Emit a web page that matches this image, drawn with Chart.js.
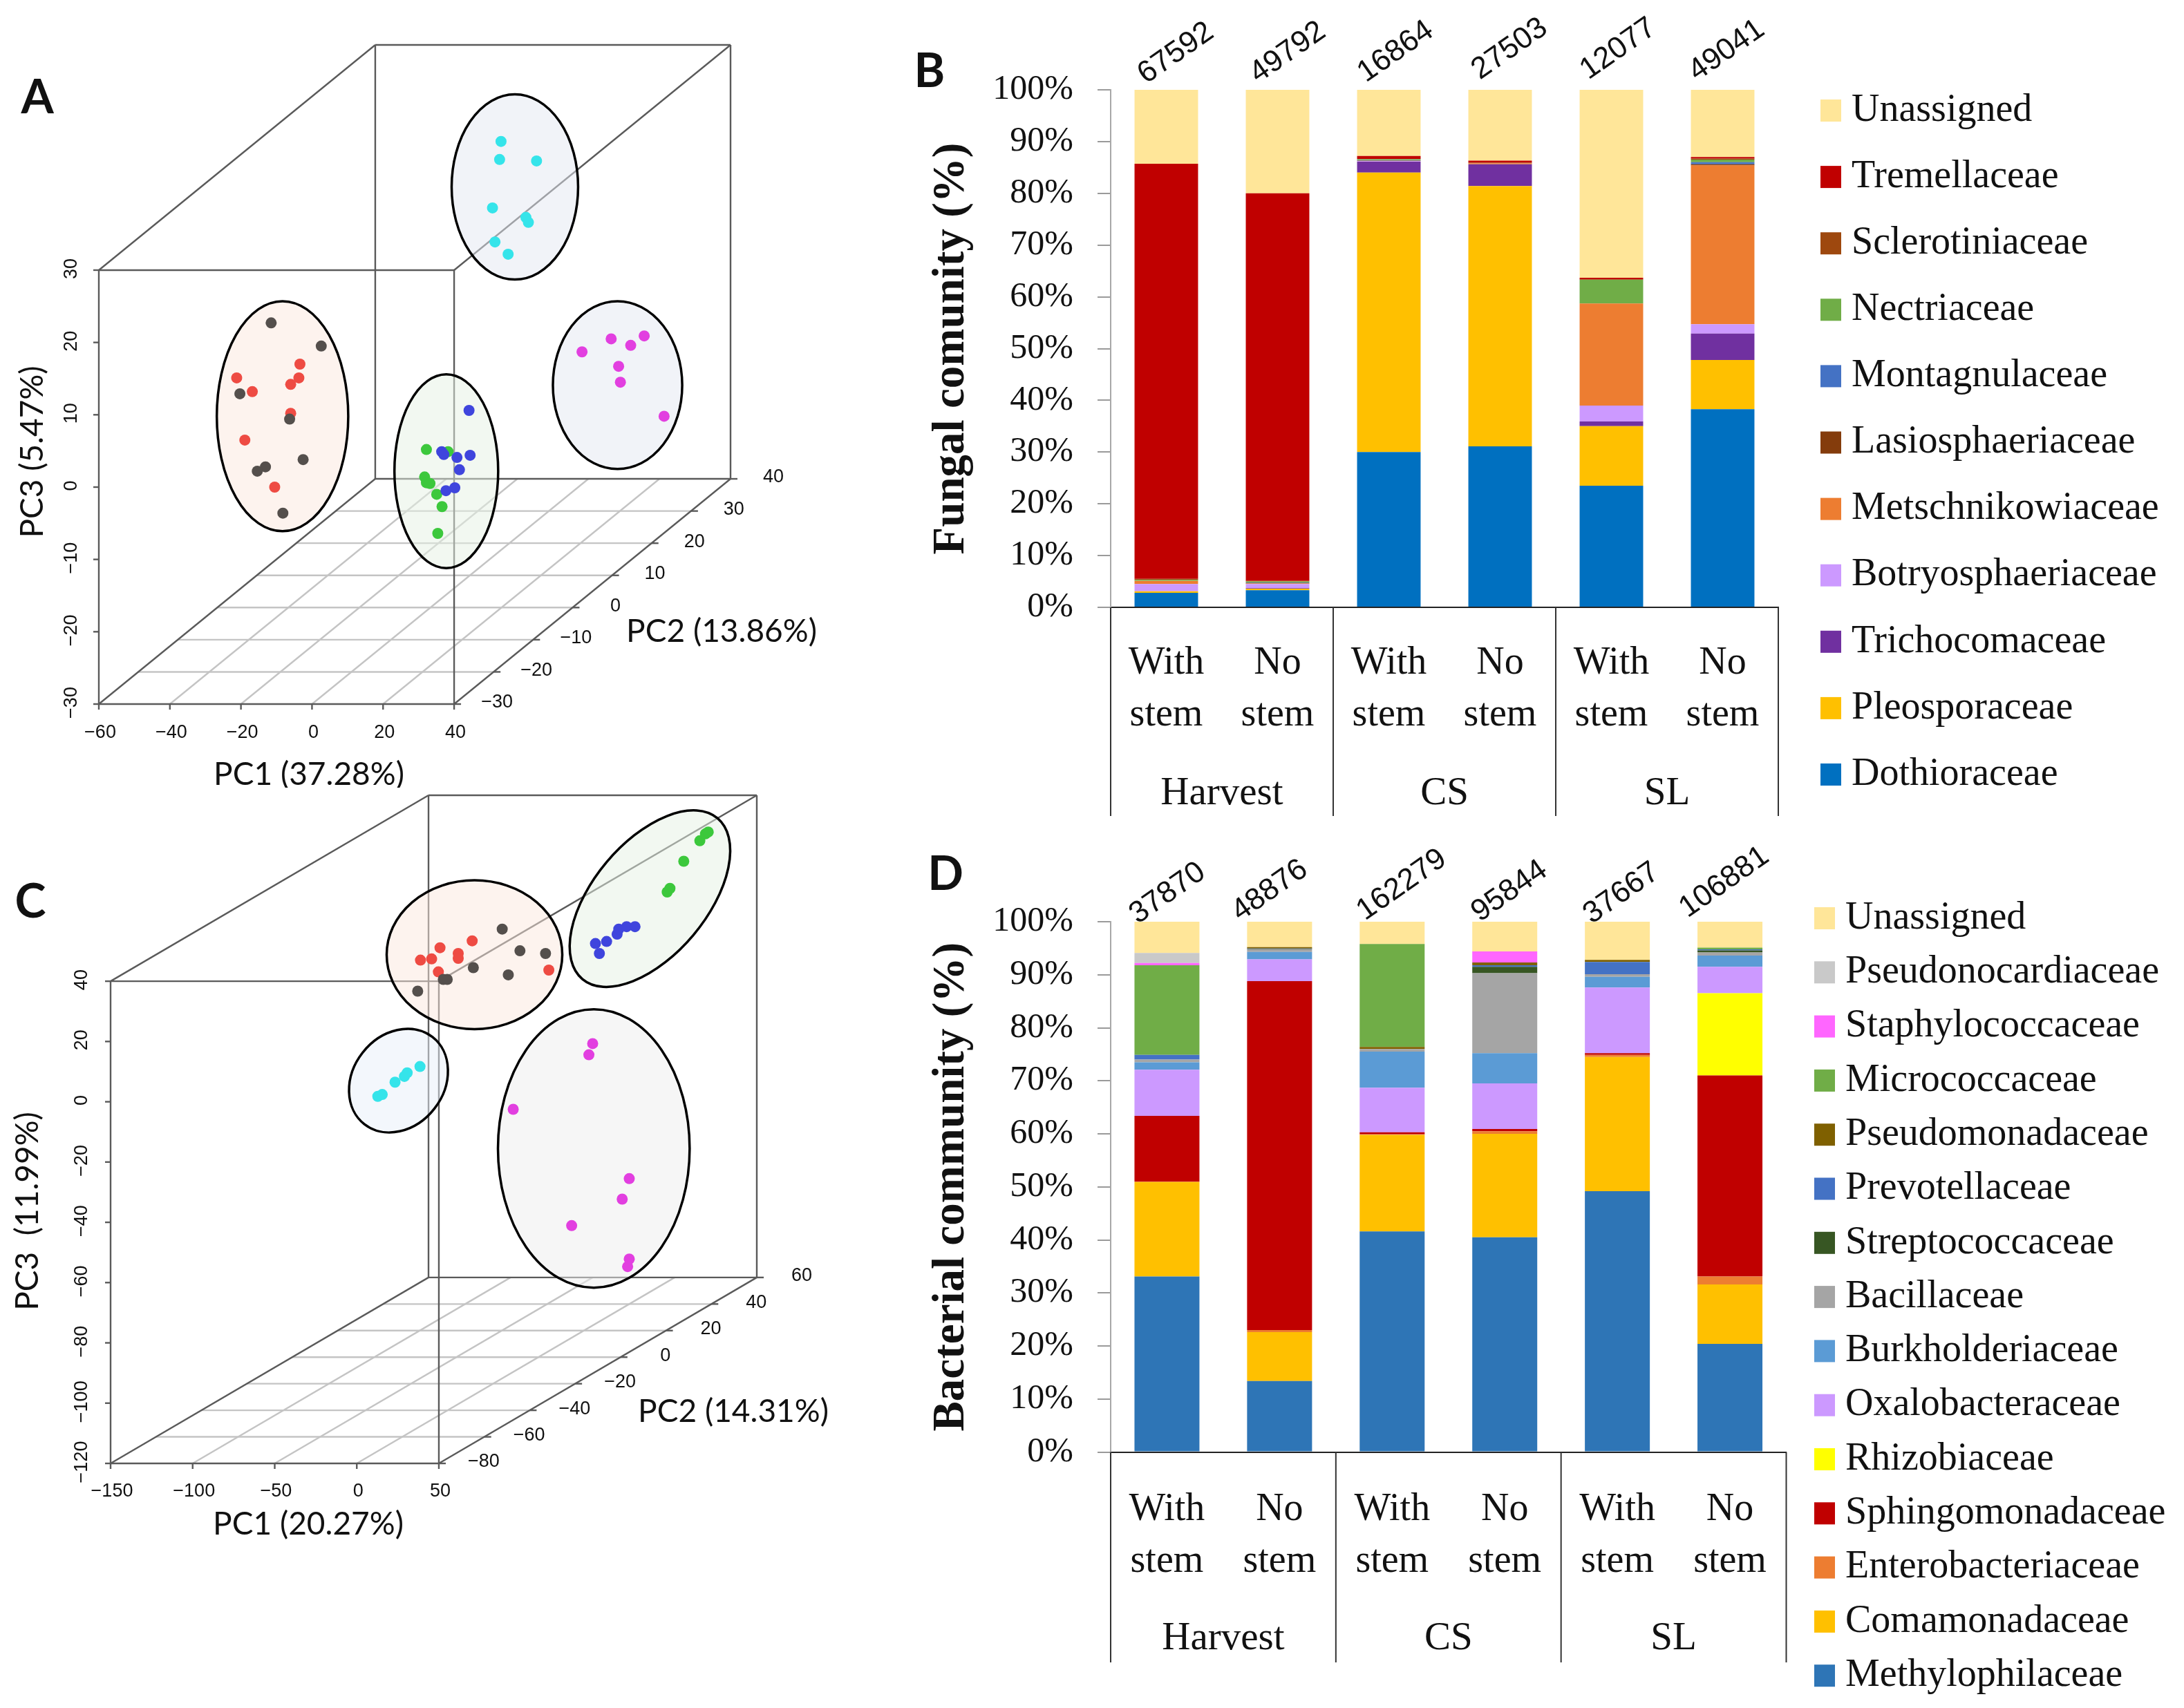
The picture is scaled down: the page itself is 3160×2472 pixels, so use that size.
<!DOCTYPE html>
<html>
<head>
<meta charset="utf-8">
<title>PCA and community composition</title>
<script src="https://cdn.jsdelivr.net/npm/chart.js@4/dist/chart.umd.js"></script>
<style>
  html, body { margin: 0; background: #fff; }
  canvas { position: absolute; }
</style>
</head>
<body>
<canvas id="chartA" width="1240" height="1140" style="left:0;top:0"></canvas>
<canvas id="chartB" width="1920" height="1220" style="left:1240px;top:0"></canvas>
<canvas id="chartC" width="1260" height="1332" style="left:0;top:1140px"></canvas>
<canvas id="chartD" width="1920" height="1252" style="left:1240px;top:1220px"></canvas>
<script>
// Panel A points, read against the front face of the box (PC1, PC3)
const cyanA = [[53.2,47.8],[52.8,45.3],[63.2,45.1],[50.8,38.6],[60.2,37.3],[60.9,36.6],[51.5,33.9],[55.2,32.2]];
const magentaA = [[76.0,18.7],[84.2,20.5],[89.7,19.6],[93.5,20.9],[86.3,16.7],[86.8,14.5],[99.1,9.8]];
const darkA = [[-11.5,22.7],[2.6,19.5],[-20.3,12.9],[-6.3,9.4],[-2.5,3.8],[-13.1,2.8],[-15.4,2.2],[-8.2,-3.6]];
const redA = [[-3.4,17.0],[-21.2,15.1],[-3.7,15.1],[-6.0,14.2],[-16.8,13.2],[-6.0,10.2],[-18.9,6.5],[-10.5,0.0]];
const blueA = [[44.2,10.6],[36.5,4.9],[37.1,4.5],[40.8,4.1],[44.5,4.4],[41.5,2.4],[40.2,-0.1],[37.7,-0.5]];
const greenA = [[32.2,5.2],[38.3,4.9],[31.7,1.4],[32.2,0.6],[33.2,0.5],[35.1,-1.0],[36.6,-2.7],[35.4,-6.4]];

// Panel C points, same reading
const cyanC = [[12.8,1.8],[15.5,2.4],[23.3,6.5],[29,8.4],[30.7,9.6],[38.5,11.7]];
const magentaC = [[143.7,19.3],[141.4,15.6],[95.3,-2.5],[166,-25.5],[161.7,-32.3],[130.9,-41.1],[166,-52.2],[165,-54.7]];
const darkC = [[37.1,36.7],[52.7,40.6],[55.1,40.6],[71,44.5],[88.6,57.3],[99.4,50.1],[115,49.2],[92.3,42.1]];
const redC = [[38.8,47],[45.6,47.4],[50.7,51.1],[61.8,49.2],[61.8,47.6],[70.3,53.4],[49.7,43.1],[117,43.7]];
const blueC = [[145.4,52.5],[147.8,49.2],[152.2,53.2],[158.6,55.6],[159.6,57.3],[164.4,58.1],[169.5,58.1]];
const greenC = [[189.1,69.6],[190.8,70.8],[199.2,79.8],[209,86.6],[212.4,88.9],[214.1,89.5]];

const pc1TicksA = [-60,-40,-20,0,20,40];
const pc2TicksA = [-30,-20,-10,0,10,20,30,40];
const pc3TicksA = [-30,-20,-10,0,10,20,30];
const pc1TicksC = [-150,-100,-50,0,50];
const pc2TicksC = [-80,-60,-40,-20,0,20,40,60];
const pc3TicksC = [-120,-100,-80,-60,-40,-20,0,20,40];

const stemLabels = [['With','stem'],['No','stem'],['With','stem'],['No','stem'],['With','stem'],['No','stem']];
const stages = ['Harvest','CS','SL'];

// Panel B
const fungalCounts = ['67592','49792','16864','27503','12077','49041'];
const fungalNames = ['Dothioraceae','Pleosporaceae','Trichocomaceae','Botryosphaeriaceae','Metschnikowiaceae','Lasiosphaeriaceae','Montagnulaceae','Nectriaceae','Sclerotiniaceae','Tremellaceae','Unassigned'];
const fungalColors = ['#0070C0','#FFC000','#7030A0','#CC99FF','#ED7D31','#843C0C','#4472C4','#70AD47','#9E480E','#C00000','#FFE699'];
const dothioraceae = [2.8,3.3,30.0,31.1,23.5,38.3];
const pleosporaceae = [0.3,0.3,54.0,50.3,11.5,9.5];
const trichocomaceae = [0,0.1,2.1,4.2,0.9,5.1];
const botryosphaeriaceae = [1.4,0.8,0.1,0,3.1,1.8];
const metschnikowiaceae = [0.6,0.1,0.05,0.2,19.7,30.7];
const lasiosphaeriaceae = [0,0.1,0.05,0,0,0.2];
const montagnulaceae = [0,0.1,0.1,0,0,0.4];
const nectriaceae = [0.2,0.2,0.2,0,4.6,0.5];
const sclerotiniaceae = [0.2,0.1,0.05,0.1,0.1,0.2];
const tremellaceae = [80.2,74.9,0.55,0.4,0.3,0.3];
const unassignedFungi = [14.3,20.1,12.8,13.7,36.3,13.0];
const fungalValues = [dothioraceae,pleosporaceae,trichocomaceae,botryosphaeriaceae,metschnikowiaceae,lasiosphaeriaceae,montagnulaceae,nectriaceae,sclerotiniaceae,tremellaceae,unassignedFungi];

// Panel D
const bacterialCounts = ['37870','48876','162279','95844','37667','106881'];
const bacterialNames = ['Methylophilaceae','Comamonadaceae','Enterobacteriaceae','Sphingomonadaceae','Rhizobiaceae','Oxalobacteraceae','Burkholderiaceae','Bacillaceae','Streptococcaceae','Prevotellaceae','Pseudomonadaceae','Micrococcaceae','Staphylococcaceae','Pseudonocardiaceae','Unassigned'];
const bacterialColors = ['#2E75B6','#FFC000','#ED7D31','#C00000','#FFFF00','#CC99FF','#5B9BD5','#A5A5A5','#375623','#4472C4','#7F6000','#70AD47','#FF66FF','#C9C9C9','#FFE699'];
const methylophilaceae = [33.1,13.4,41.6,40.5,49.2,20.4];
const comamonadaceae = [17.8,9.2,18.2,19.5,25.3,11.2];
const enterobacteriaceae = [0.1,0.4,0.1,0.5,0.4,1.5];
const sphingomonadaceae = [12.4,65.8,0.4,0.4,0.3,37.9];
const rhizobiaceae = [0,0,0,0,0,15.5];
const oxalobacteraceae = [8.7,4.1,8.4,8.6,12.4,5.0];
const burkholderiaceae = [1.4,1.4,6.8,5.7,2.0,2.1];
const bacillaceae = [0.5,0.5,0.5,15.1,0.5,0.6];
const streptococcaceae = [0,0.05,0,1.2,0,0.4];
const prevotellaceae = [0.9,0.1,0,0.3,2.3,0.2];
const pseudomonadaceae = [0,0.25,0.4,0.5,0.4,0];
const micrococcaceae = [16.9,0,19.4,0,0,0.3];
const staphylococcaceae = [0.4,0,0,2.1,0,0];
const pseudonocardiaceae = [1.9,0,0,0,0,0];
const unassignedBacteria = [5.9,4.8,4.2,5.6,7.2,4.9];
const bacterialValues = [methylophilaceae,comamonadaceae,enterobacteriaceae,sphingomonadaceae,rhizobiaceae,oxalobacteraceae,burkholderiaceae,bacillaceae,streptococcaceae,prevotellaceae,pseudomonadaceae,micrococcaceae,staphylococcaceae,pseudonocardiaceae,unassignedBacteria];

const SERIF = '"Liberation Serif", serif';
const SANS = '"Liberation Sans", Arial, sans-serif';
const TITLE_FONT = 'Lato, "Open Sans", sans-serif';

Chart.defaults.animation = false;
Chart.defaults.responsive = false;
Chart.defaults.devicePixelRatio = 1;
Chart.defaults.plugins.legend.display = false;
Chart.defaults.plugins.tooltip.enabled = false;

function drawText(ctx, text, x, y, font, angle) {
  ctx.save();
  ctx.translate(x, y);
  if (angle) ctx.rotate(angle * Math.PI / 180);
  ctx.font = font;
  ctx.fillStyle = '#111';
  ctx.textAlign = 'center';
  ctx.textBaseline = 'middle';
  ctx.fillText(text, 0, 0);
  ctx.restore();
}

// The 3D box of the ordination plots: oblique projection over the chart's x/y scales
function pcaBoxPlugin(box) {
  function project(chart, pc1, pc2, pc3) {
    const shift = pc2 - box.pc2[0];
    return [
      chart.scales.x.getPixelForValue(pc1 + shift * box.kx),
      chart.scales.y.getPixelForValue(pc3 + shift * box.ky)
    ];
  }
  function line(ctx, a, b) {
    ctx.beginPath();
    ctx.moveTo(a[0], a[1]);
    ctx.lineTo(b[0], b[1]);
    ctx.stroke();
  }
  const minus = v => String(v).replace('-', '\u2212');
  return {
    id: 'pcaBox',
    beforeDatasetsDraw(chart) {
      const ctx = chart.ctx;
      const p = (a, b, c) => project(chart, a, b, c);
      const x0 = box.pc1[0], x1 = box.pc1[box.pc1.length - 1];
      const y0 = box.pc2[0], y1 = box.pc2[box.pc2.length - 1];
      const z0 = box.pc3[0], z1 = box.pc3[box.pc3.length - 1];
      ctx.save();
      // floor grid
      ctx.strokeStyle = '#c4c4c4';
      ctx.lineWidth = 2.4;
      box.pc1.slice(1, -1).forEach(v => line(ctx, p(v, y0, z0), p(v, y1, z0)));
      box.pc2.slice(1, -1).forEach(v => line(ctx, p(x0, v, z0), p(x1, v, z0)));
      // box edges
      ctx.strokeStyle = '#5a5a5a';
      [[x0,y0,z0,x1,y0,z0],[x0,y0,z1,x1,y0,z1],[x0,y0,z0,x0,y0,z1],[x1,y0,z0,x1,y0,z1],
       [x0,y1,z0,x1,y1,z0],[x0,y1,z1,x1,y1,z1],[x0,y1,z0,x0,y1,z1],[x1,y1,z0,x1,y1,z1],
       [x0,y0,z0,x0,y1,z0],[x1,y0,z0,x1,y1,z0],[x0,y0,z1,x0,y1,z1],[x1,y0,z1,x1,y1,z1]
      ].forEach(e => line(ctx, p(e[0], e[1], e[2]), p(e[3], e[4], e[5])));
      // ticks
      box.pc1.forEach(v => { const a = p(v, y0, z0); line(ctx, a, [a[0], a[1] + 8]); });
      box.pc3.forEach(v => { const a = p(x0, y0, v); line(ctx, a, [a[0] - 8, a[1]]); });
      box.pc2.forEach(v => { const a = p(x1, v, z0); line(ctx, a, [a[0] + 10, a[1]]); });
      // group ellipses
      box.ellipses.forEach(e => {
        const sx = chart.scales.x, sy = chart.scales.y;
        ctx.beginPath();
        ctx.ellipse(sx.getPixelForValue(e.x), sy.getPixelForValue(e.y),
          Math.abs(sx.getPixelForValue(e.x + e.rx) - sx.getPixelForValue(e.x)),
          Math.abs(sy.getPixelForValue(e.y + e.ry) - sy.getPixelForValue(e.y)),
          (e.rot || 0) * Math.PI / 180, 0, Math.PI * 2);
        ctx.fillStyle = e.fill;
        ctx.fill();
        ctx.strokeStyle = '#000';
        ctx.lineWidth = 3.5;
        ctx.stroke();
      });
      ctx.restore();
    },
    afterDraw(chart) {
      const ctx = chart.ctx;
      const p = (a, b, c) => project(chart, a, b, c);
      const x0 = box.pc1[0], x1 = box.pc1[box.pc1.length - 1];
      const y0 = box.pc2[0], z0 = box.pc3[0];
      const tickFont = '27px ' + SANS;
      box.pc1.forEach(v => { const a = p(v, y0, z0); drawText(ctx, minus(v), a[0] + 2, a[1] + box.xLabelGap, tickFont); });
      box.pc3.forEach(v => { const a = p(x0, y0, v); drawText(ctx, minus(v), a[0] - box.zLabelGap, a[1] - 2, tickFont, -90); });
      box.pc2.forEach(v => { const a = p(x1, v, z0); drawText(ctx, minus(v), a[0] + box.yLabelGap, a[1] - 2, tickFont); });
      const titleFont = '46px ' + TITLE_FONT;
      box.titles.forEach(t => drawText(ctx, t.text, t.x, t.y, titleFont, t.angle));
      drawText(ctx, box.letter.text, box.letter.x, box.letter.y, 'bold 68px ' + TITLE_FONT);
    }
  };
}

function pcaChart(id, groups, range, padding, box) {
  return new Chart(document.getElementById(id), {
    type: 'scatter',
    data: {
      datasets: groups.map(g => ({
        data: g.points.map(q => ({ x: q[0], y: q[1] })),
        backgroundColor: g.color,
        borderWidth: 0,
        pointRadius: 8,
        clip: false
      }))
    },
    options: {
      layout: { padding },
      scales: {
        x: { type: 'linear', display: false, min: range[0], max: range[1] },
        y: { type: 'linear', display: false, min: range[2], max: range[3] }
      }
    },
    plugins: [pcaBoxPlugin(box)]
  });
}

pcaChart('chartA',
  [{ points: cyanA, color: '#35e4ea' }, { points: magentaA, color: '#e23fe0' },
   { points: darkA, color: '#544f4c' }, { points: redA, color: '#ee4b43' },
   { points: blueA, color: '#3f45dd' }, { points: greenA, color: '#3cc83c' }],
  [-60, 117.8, -30, 61.14],
  { left: 143, right: 183, top: 65, bottom: 121 },
  {
    pc1: pc1TicksA, pc2: pc2TicksA, pc3: pc3TicksA, kx: 77.8 / 70, ky: 31.14 / 70,
    xLabelGap: 42, zLabelGap: 39, yLabelGap: 62,
    ellipses: [
      { x: 57.1, y: 41.5, rx: 17.8, ry: 12.8, fill: 'rgba(227,231,241,0.5)' },
      { x: -8.3, y: 9.8, rx: 18.5, ry: 15.9, fill: 'rgba(251,231,221,0.5)' },
      { x: 37.8, y: 2.2, rx: 14.6, ry: 13.4, fill: 'rgba(229,241,227,0.5)' },
      { x: 86, y: 14.1, rx: 18.2, ry: 11.6, fill: 'rgba(227,231,241,0.5)' }
    ],
    titles: [
      { text: 'PC1 (37.28%)', x: 447, y: 1121 },
      { text: 'PC2 (13.86%)', x: 1044, y: 914 },
      { text: 'PC3 (5.47%)', x: 47, y: 654, angle: -90 }
    ],
    letter: { text: 'A', x: 54, y: 142 }
  });

pcaChart('chartC',
  [{ points: cyanC, color: '#35e4ea' }, { points: magentaC, color: '#e23fe0' },
   { points: darkC, color: '#544f4c' }, { points: redC, color: '#ee4b43' },
   { points: blueC, color: '#3f45dd' }, { points: greenC, color: '#3cc83c' }],
  [-150, 243.7, -120, 101.7],
  { left: 160, right: 165, top: 11, bottom: 354 },
  {
    pc1: pc1TicksC, pc2: pc2TicksC, pc3: pc3TicksC, kx: 193.7 / 140, ky: 61.7 / 140,
    xLabelGap: 41, zLabelGap: 41, yLabelGap: 65,
    ellipses: [
      { x: 71.7, y: 48.8, rx: 53.5, ry: 24.7, fill: 'rgba(251,231,221,0.5)' },
      { x: 178.6, y: 67.4, rx: 64, ry: 18.8, rot: -50, fill: 'rgba(229,241,227,0.5)' },
      { x: 25.4, y: 7.0, rx: 33.7, ry: 15.1, rot: -52, fill: 'rgba(231,239,249,0.5)' },
      { x: 144.4, y: -15.5, rx: 58.4, ry: 46.2, fill: 'rgba(237,237,237,0.5)' }
    ],
    titles: [
      { text: 'PC1 (20.27%)', x: 446, y: 1066 },
      { text: 'PC2 (14.31%)', x: 1061, y: 903 },
      { text: 'PC3  (11.99%)', x: 40, y: 613, angle: -90 }
    ],
    letter: { text: 'C', x: 44, y: 166 }
  });

// Legend, read counts and stage separators of the stacked bars
function barExtrasPlugin(cfg) {
  return {
    id: 'barExtras',
    afterDraw(chart) {
      const ctx = chart.ctx, x = chart.scales.x, y = chart.scales.y;
      // separators under the axis
      ctx.save();
      ctx.strokeStyle = '#333';
      ctx.lineWidth = 2;
      [0, 2, 4, 6].forEach(i => {
        const px = x.left + x.width * i / 6;
        ctx.beginPath();
        ctx.moveTo(px, y.bottom);
        ctx.lineTo(px, cfg.separatorEnd);
        ctx.stroke();
      });
      ctx.restore();
      // read counts over the bars
      cfg.counts.forEach((c, i) => {
        drawText(ctx, c, x.getPixelForValue(i) + cfg.countShift[i], y.top - cfg.countLift[i], '44px ' + SANS, -35);
      });
      // legend, top entry is the last dataset
      const sets = chart.data.datasets.slice().reverse();
      ctx.textAlign = 'left';
      ctx.textBaseline = 'middle';
      sets.forEach((d, i) => {
        const cy = cfg.legendTop + i * cfg.legendStep;
        ctx.fillStyle = d.backgroundColor;
        ctx.fillRect(cfg.legendX, cy - 16, 30, 32);
        ctx.fillStyle = '#111';
        ctx.font = '56px ' + SERIF;
        ctx.fillText(d.label, cfg.legendX + 45, cy);
      });
      drawText(ctx, cfg.letter.text, cfg.letter.x, cfg.letter.y, 'bold 68px ' + TITLE_FONT);
    }
  };
}

function stackedChart(id, names, colors, values, yTitle, cfg) {
  const labelFont = { family: SERIF, size: 56, lineHeight: 1.34 };
  return new Chart(document.getElementById(id), {
    type: 'bar',
    data: {
      labels: stemLabels,
      datasets: names.map((n, i) => ({
        label: n,
        data: values[i],
        backgroundColor: colors[i],
        borderWidth: 0,
        barPercentage: cfg.barPercentage,
        categoryPercentage: 1
      }))
    },
    options: {
      layout: { padding: { left: 0, right: cfg.right, top: cfg.top, bottom: 0 } },
      scales: {
        x: {
          stacked: true,
          weight: 0,
          grid: { display: false },
          border: { color: '#222', width: 2 },
          ticks: { color: '#111', font: labelFont, padding: cfg.stemPadding, maxRotation: 0, autoSkip: false },
          afterFit: s => { s.height = cfg.stemHeight; }
        },
        stage: {
          type: 'category',
          position: 'bottom',
          weight: 1,
          labels: stages,
          grid: { display: false },
          border: { display: false },
          ticks: { color: '#111', font: { family: SERIF, size: 57 }, padding: cfg.stagePadding, maxRotation: 0 },
          afterFit: s => { s.height = cfg.stageHeight; }
        },
        y: {
          stacked: true,
          min: 0,
          max: 100,
          grid: { drawOnChartArea: false, tickLength: 19, color: '#9a9a9a', lineWidth: 2 },
          border: { color: '#a8a8a8', width: 2 },
          ticks: {
            stepSize: 10,
            padding: 35,
            color: '#111',
            font: { family: SERIF, size: 50 },
            callback: v => v + '%'
          },
          title: {
            display: true,
            text: yTitle,
            color: '#111',
            font: { family: SERIF, size: 65, weight: 'bold' },
            padding: { top: 98, bottom: 0 }
          },
          afterFit: s => { s.width = 367; }
        }
      }
    },
    plugins: [barExtrasPlugin(cfg)]
  });
}

stackedChart('chartB', fungalNames, fungalColors, fungalValues, 'Fungal comunity (%)', {
  barPercentage: 0.571, right: 587, top: 130,
  stemHeight: 211, stageHeight: 130, stemPadding: 36, stagePadding: 17,
  separatorEnd: 1181, counts: fungalCounts,
  countShift: [14, 15, 10, 14, 10, 6], countLift: [53, 54, 55, 59, 59, 57],
  legendX: 1394, legendTop: 160, legendStep: 96.1,
  letter: { text: 'B', x: 105, y: 104 }
});

stackedChart('chartD', bacterialNames, bacterialColors, bacterialValues, 'Bacterial community (%)', {
  barPercentage: 0.577, right: 575.5, top: 114,
  stemHeight: 211, stageHeight: 159.5, stemPadding: 38, stagePadding: 17,
  separatorEnd: 1186, counts: bacterialCounts,
  countShift: [1, -14, 14, 7, 6, -8], countLift: [41, 45, 53, 44, 41, 57],
  legendX: 1385, legendTop: 109, legendStep: 78.3,
  letter: { text: 'D', x: 128, y: 46 }
});
</script>
</body>
</html>
